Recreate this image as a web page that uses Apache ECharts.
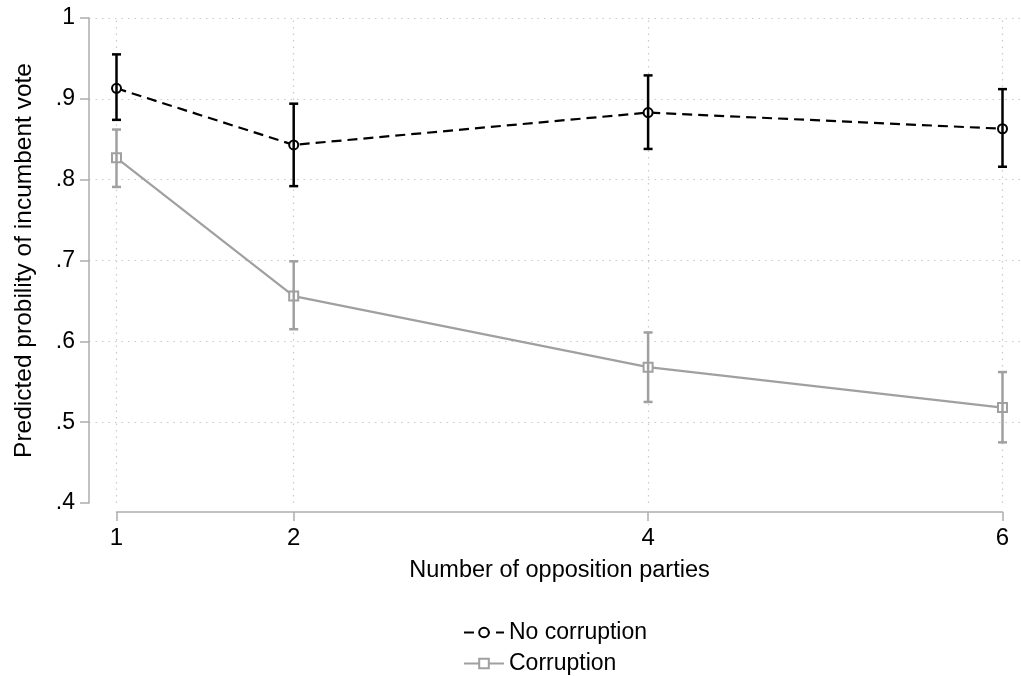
<!DOCTYPE html>
<html>
<head>
<meta charset="utf-8">
<script src="https://cdn.jsdelivr.net/npm/echarts@6/dist/echarts.min.js"></script>
<style>
html,body{margin:0;padding:0;background:#fff;}
#chart{width:1021px;height:676px;}
</style>
</head>
<body>
<div id="chart"></div>
<script>
const xValues = [1, 2, 4, 6];
const xTickLabels = ['1', '2', '4', '6'];
const yTickValues = [0.4, 0.5, 0.6, 0.7, 0.8, 0.9, 1.0];
const yTickLabels = ['.4', '.5', '.6', '.7', '.8', '.9', '1'];

const noCorr   = [0.913, 0.843, 0.883, 0.863];
const noCorrLo = [0.874, 0.792, 0.838, 0.816];
const noCorrHi = [0.955, 0.894, 0.929, 0.912];

const corr   = [0.827, 0.656, 0.568, 0.518];
const corrLo = [0.791, 0.615, 0.525, 0.475];
const corrHi = [0.862, 0.699, 0.611, 0.562];

const FONT = '"Liberation Sans", Arial, Helvetica, sans-serif';
const AXIS_GRAY = '#adadad';
const GRID_GRAY = '#c9c9c9';
const SERIES_GRAY = '#a0a0a0';

function pairs(ys) { return xValues.map((x, i) => [x, ys[i]]); }
function ciData(lo, hi) { return xValues.map((x, i) => [x, lo[i], hi[i]]); }

function ciRender(color) {
  return function (params, api) {
    const x = api.value(0);
    const lo = api.coord([x, api.value(1)]);
    const hi = api.coord([x, api.value(2)]);
    const half = 4.5;
    const style = { stroke: color, lineWidth: 2.5, fill: null };
    return {
      type: 'group',
      children: [
        { type: 'line', shape: { x1: lo[0], y1: lo[1], x2: hi[0], y2: hi[1] }, style: style },
        { type: 'line', shape: { x1: lo[0] - half, y1: lo[1], x2: lo[0] + half, y2: lo[1] }, style: style },
        { type: 'line', shape: { x1: hi[0] - half, y1: hi[1], x2: hi[0] + half, y2: hi[1] }, style: style }
      ]
    };
  };
}

const legendBase = {
  orient: 'horizontal',
  left: 458,
  itemWidth: 40, itemHeight: 12,
  textStyle: { fontSize: 23, color: '#000', fontFamily: FONT },
  selectedMode: false
};

const chart = echarts.init(document.getElementById('chart'), null, { renderer: 'canvas' });

chart.setOption({
  backgroundColor: '#ffffff',
  animation: false,
  textStyle: { fontFamily: FONT, color: '#000' },
  grid: [
    { left: 89, right: 1, top: 18, bottom: 173 },
    { left: 116.5, right: 18.5, top: 18, bottom: 173 }
  ],
  xAxis: [
    {
      gridIndex: 0, type: 'value', min: 0.845, max: 6.1,
      axisLine: { show: false }, axisTick: { show: false },
      axisLabel: { show: false }, splitLine: { show: false }
    },
    {
      gridIndex: 1, type: 'value', min: 1, max: 6, interval: 1,
      offset: 9,
      axisLine: { show: true, onZero: false, lineStyle: { color: AXIS_GRAY, width: 1.5 } },
      axisTick: { show: true, customValues: xValues, length: 9, lineStyle: { color: AXIS_GRAY, width: 1.5 } },
      axisLabel: {
        show: true, customValues: xValues, margin: 14,
        fontSize: 24, color: '#000', fontFamily: FONT,
        formatter: function (v) { const i = xValues.indexOf(v); return i >= 0 ? xTickLabels[i] : ''; }
      },
      splitLine: { show: false },
      name: 'Number of opposition parties',
      nameLocation: 'middle', nameGap: 59,
      nameTextStyle: { fontSize: 23.5, color: '#000', fontFamily: FONT, verticalAlign: 'middle' }
    }
  ],
  yAxis: [
    {
      gridIndex: 0, type: 'value', min: 0.4, max: 1.0, interval: 0.1,
      axisLine: { show: true, lineStyle: { color: AXIS_GRAY, width: 1.5 } },
      axisTick: { show: true, length: 9, lineStyle: { color: AXIS_GRAY, width: 1.5 } },
      axisLabel: {
        margin: 14, fontSize: 23, color: '#000', fontFamily: FONT,
        padding: [5, 0, 0, 0],
        formatter: function (v) {
          let best = 0;
          for (let i = 0; i < yTickValues.length; i++) {
            if (Math.abs(yTickValues[i] - v) < Math.abs(yTickValues[best] - v)) best = i;
          }
          return yTickLabels[best];
        }
      },
      splitLine: { show: true, showMinLine: false, lineStyle: { color: GRID_GRAY, type: [1.5, 5], width: 1.2 } },
      name: 'Predicted probility of incumbent vote',
      nameLocation: 'middle', nameGap: 65, nameRotate: 90,
      nameTextStyle: { fontSize: 24.5, color: '#000', fontFamily: FONT, verticalAlign: 'middle' }
    },
    {
      gridIndex: 1, type: 'value', min: 0.4, max: 1.0, interval: 0.1, show: false,
      splitLine: { show: false }
    }
  ],
  legend: [
    Object.assign({}, legendBase, { data: ['No corruption'], top: 616 }),
    Object.assign({}, legendBase, { data: ['Corruption'], top: 647 })
  ],
  series: [
    {
      name: 'No corruption', type: 'line', xAxisIndex: 1, yAxisIndex: 1,
      data: pairs(noCorr),
      symbol: 'emptyCircle', symbolSize: 9,
      itemStyle: { color: '#000', borderWidth: 2 },
      lineStyle: { color: '#000', width: 2.2, type: [10, 6] },
      z: 3,
      markLine: {
        silent: true, symbol: 'none', label: { show: false },
        lineStyle: { color: GRID_GRAY, type: [1.5, 5], width: 1.2 },
        data: xValues.map(v => ({ xAxis: v })),
        z: 1
      }
    },
    {
      name: 'Corruption', type: 'line', xAxisIndex: 1, yAxisIndex: 1,
      data: pairs(corr),
      symbol: 'emptyRect', symbolSize: 9,
      itemStyle: { color: SERIES_GRAY, borderWidth: 2 },
      lineStyle: { color: SERIES_GRAY, width: 2.2, type: 'solid' },
      z: 3
    },
    {
      name: 'ci_no', type: 'custom', xAxisIndex: 1, yAxisIndex: 1,
      data: ciData(noCorrLo, noCorrHi),
      renderItem: ciRender('#000'),
      encode: { x: 0, y: [1, 2] },
      z: 5
    },
    {
      name: 'ci_corr', type: 'custom', xAxisIndex: 1, yAxisIndex: 1,
      data: ciData(corrLo, corrHi),
      renderItem: ciRender(SERIES_GRAY),
      encode: { x: 0, y: [1, 2] },
      z: 4
    }
  ]
});
</script>
</body>
</html>
